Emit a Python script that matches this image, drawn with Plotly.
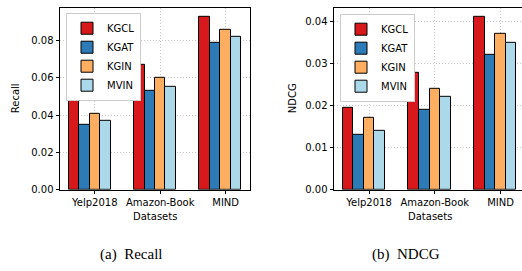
import plotly.graph_objects as go

datasets = ["Yelp2018", "Amazon-Book", "MIND"]
methods = ["KGCL", "KGAT", "KGIN", "MVIN"]
colors = ["#d7191c", "#2c7bb6", "#fdae61", "#abd9e9"]

recall_kgcl = [0.048, 0.067, 0.093]
recall_kgat = [0.035, 0.053, 0.079]
recall_kgin = [0.041, 0.060, 0.086]
recall_mvin = [0.037, 0.055, 0.082]

ndcg_kgcl = [0.0195, 0.0277, 0.0412]
ndcg_kgat = [0.013, 0.019, 0.032]
ndcg_kgin = [0.017, 0.024, 0.037]
ndcg_mvin = [0.014, 0.022, 0.035]

recall = [recall_kgcl, recall_kgat, recall_kgin, recall_mvin]
ndcg = [ndcg_kgcl, ndcg_kgat, ndcg_kgin, ndcg_mvin]

W, H = 522, 271
bw = 0.16
idx = list(range(len(datasets)))

fig = go.Figure()
for panel, (data, xa, ya, leg) in enumerate([(recall, "x", "y", "legend"), (ndcg, "x2", "y2", "legend2")]):
    for k, m in enumerate(methods):
        off = (k - 2) * bw
        fig.add_trace(go.Bar(
            x=[i + off for i in idx], y=data[k], width=bw, name=m,
            marker=dict(color=colors[k], line=dict(color="black", width=1)),
            xaxis=xa, yaxis=ya, legend=leg, showlegend=True,
        ))

font_tick = dict(family="DejaVu Sans", size=10, color="black")
ydom = [1 - 194 / H, 1 - 8 / H]

axis_common = dict(
    showline=True, linecolor="black", linewidth=1,
    ticks="outside", ticklen=3.5, tickwidth=0.8, tickcolor="black",
    showgrid=True, gridcolor="#c4c4c4", griddash="1px,2px", gridwidth=1,
    zeroline=False, tickfont=font_tick,
)

fig.update_layout(
    width=W, height=H, margin=dict(l=0, r=0, t=0, b=0),
    paper_bgcolor="white", plot_bgcolor="white",
    barmode="overlay", bargap=0,
    xaxis=dict(domain=[60 / W, 250 / W], range=[-0.532, 2.372], tickvals=idx, ticktext=datasets,
               tickangle=0, mirror=True, anchor="y", **axis_common),
    yaxis=dict(domain=ydom, range=[0, 0.09765], tickvals=[0, 0.02, 0.04, 0.06, 0.08],
               tickformat=".2f", mirror=True, anchor="x", **axis_common),
    xaxis2=dict(domain=[334 / W, 1.0], range=[-0.532, 2.325], tickvals=idx, ticktext=datasets,
                tickangle=0, mirror=True, anchor="y2", **axis_common),
    yaxis2=dict(domain=ydom, range=[0, 0.04326], tickvals=[0, 0.01, 0.02, 0.03, 0.04],
                tickformat=".2f", mirror=False, anchor="x2", **axis_common),
    legend=dict(x=66 / W, y=1 - 13 / H, xanchor="left", yanchor="top",
                bgcolor="white", bordercolor="#cccccc", borderwidth=1,
                font=dict(family="DejaVu Sans", size=10, color="black"),
                tracegroupgap=0, itemwidth=30),
    legend2=dict(x=340 / W, y=1 - 14 / H, xanchor="left", yanchor="top",
                 bgcolor="white", bordercolor="#cccccc", borderwidth=1,
                 font=dict(family="DejaVu Sans", size=10, color="black"),
                 tracegroupgap=0, itemwidth=30),
)

ann_font = dict(family="DejaVu Sans", size=10, color="black")
cap_font = dict(family="Liberation Serif", size=15, color="black")


def note(text, px, py, font, angle=0):
    fig.add_annotation(text=text, x=px / W, y=1 - py / H, xref="paper", yref="paper",
                       xanchor="center", yanchor="middle", showarrow=False,
                       textangle=angle, font=font)


note("Recall", 15.5, 101, ann_font, -90)
note("NDCG", 292.5, 101, ann_font, -90)
note("Datasets", 155, 221, ann_font)
note("Datasets", 429.5, 221, ann_font)
note("(a)\u2002Recall", 131, 260, cap_font)
note("(b)\u2002NDCG", 406, 260, cap_font)

js = (
    "var d=document.documentElement,b=document.body;"
    "d.style.margin='0';d.style.padding='0';d.style.overflow='hidden';"
    "d.style.height='271px';d.style.width='522px';"
    "b.style.margin='0';b.style.padding='0';b.style.overflow='hidden';"
    "b.style.height='271px';b.style.width='522px';"
    "var g=document.getElementsByClassName('plotly-graph-div')[0];"
    "if(g&&g.parentNode){g.parentNode.style.height='271px';g.parentNode.style.overflow='hidden';}"
)
fig.write_html("out.html", config={"displayModeBar": False}, post_script=js)
